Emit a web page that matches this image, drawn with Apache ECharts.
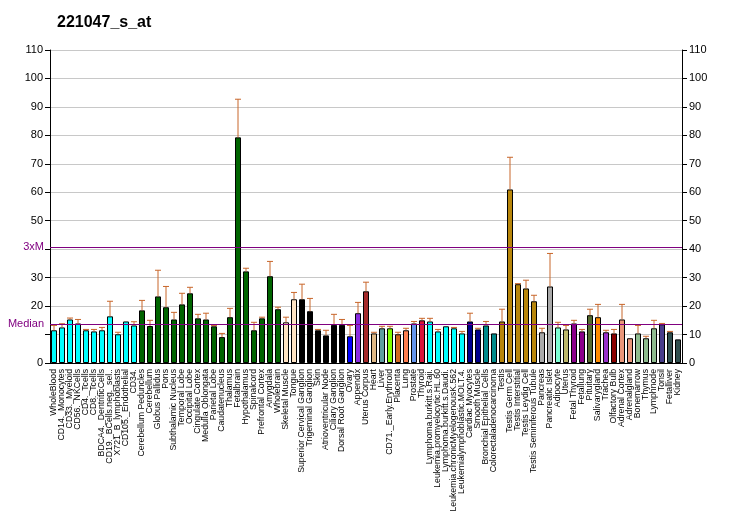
<!DOCTYPE html>
<html>
<head>
<meta charset="utf-8">
<script src="https://cdn.jsdelivr.net/npm/echarts@6/dist/echarts.min.js"></script>
<style>
  html, body { margin: 0; padding: 0; background: #fff; }
  #chart { width: 732px; height: 530px; }
</style>
</head>
<body>
<div id="chart"></div>
<script>
// tissue names as printed under the bars
var categories = [
  "WholeBlood", "CD14._Monocytes", "CD33._Myeloid", "CD56._NKCells", "CD4._Tcells", "CD8._Tcells",
  "BDCA4._DentriticCells", "CD19._BCells.neg._sel..", "X721_B_lymphoblasts", "CD105._Endothelial", "CD34.",
  "Cerebellum Peduncles", "Cerebellum", "Globus Pallidus", "Pons", "Subthalamic Nucleus", "Temporal Lobe",
  "Occipital Lobe", "Cingulate Cortex", "Medulla Oblongata", "Parietal Lobe", "Caudatenucleus", "Thalamus",
  "Fetalbrain", "Hypothalamus", "Spinalcord", "Prefrontal Cortex", "Amygdala", "Wholebrain",
  "Skeletal Muscle", "Tongue", "Superior Cervical Ganglion", "Trigeminal Ganglion", "Skin",
  "Atrioventricular Node", "Ciliary Ganglion", "Dorsal Root Ganglion", "Ovary", "Appendix", "Uterus Corpus",
  "Heart", "Liver", "CD71._Early.Erythroid", "Placenta", "Lung", "Prostate", "Thyroid",
  "Lymphoma.burkitt.s.Raji.", "Leukemia.promyelocytic.HL.60", "Lymphoma.burkitt.s.Daudi.",
  "Leukemia.chronicMyelogenousK.562", "Leukemialymphoblastic.MOLT.4.", "Cardiac Myocytes", "Smooth Muscle",
  "Bronchial Epithelial Cells", "Colorectaladenocarcinoma", "Testis", "Testis Germ Cell", "Testis Interstitial",
  "Testis Leydig Cell", "Testis Seminiferous Tubule", "Pancreas", "Pancreatic Islet", "Adipocyte", "Uterus",
  "Fetal Thyroid", "Fetallung", "Pituitary", "Salivarygland", "Trachea", "Olfactory Bulb", "Adrenal Cortex",
  "Adrenalgland", "Bonemarrow", "Thymus", "Lymphnode", "Tonsil", "Fetalliver", "Kidney"
];

// bar heights
var values = [
  11.5, 12.5, 15.3, 13.9, 11.5, 11.1, 11.5, 16.4, 10.1, 14.6, 13.2,
  18.5, 13.0, 23.4, 19.6, 15.3, 20.6, 24.5, 15.7, 15.3, 12.9, 9.1, 16.1,
  79.3, 32.2, 11.5, 15.7, 30.5, 18.9,
  14.3, 22.4, 22.4, 18.2, 11.5, 9.7, 13.4, 13.4, 9.4, 17.5, 25.2,
  10.4, 12.2, 12.2, 10.1, 11.5, 13.9, 15.0,
  14.6, 11.1, 12.9, 12.2, 10.4, 14.6, 11.8, 13.2, 10.4,
  14.6, 61.0, 27.7, 26.2, 21.7, 10.8, 26.9, 12.5, 11.8,
  13.9, 11.1, 16.8, 16.1, 10.8, 10.4, 15.3, 8.7, 10.4, 8.7, 12.2, 13.6, 10.8, 8.3
];

// top of the error whiskers
var errTop = [
  13.2, 13.8, 15.8, 15.3, 11.8, 11.8, 12.5, 21.7, 10.8, 14.6, 14.5,
  22.0, 15.0, 32.6, 26.9, 17.8, 24.5, 26.6, 17.1, 17.5, 13.2, 10.4, 19.2,
  92.7, 33.3, 14.3, 16.1, 35.7, 19.6,
  16.1, 24.8, 27.7, 22.7, 11.8, 11.5, 17.1, 15.3, 13.2, 21.3, 28.4,
  10.8, 12.9, 12.9, 10.8, 12.2, 14.6, 15.7,
  15.7, 11.8, 12.9, 12.5, 11.1, 17.5, 12.2, 14.6, 10.4,
  18.9, 72.3, 27.9, 29.1, 23.8, 12.2, 38.5, 14.3, 13.2,
  15.0, 11.8, 18.9, 20.6, 11.5, 11.8, 20.6, 8.7, 13.2, 9.4, 15.0, 13.9, 11.1, 8.3
];

var barColors = [].concat(
  Array(11).fill("#00FFFF"),
  Array(18).fill("#006400"),
  ["#FFE4C4", "#FFE4C4"],
  Array(6).fill("#000000"),
  ["#0000FF", "#8A2BE2", "#A52A2A", "#DEB887", "#5F9EA0", "#7FFF00", "#D2691E", "#FF7F50", "#6495ED", "#DC143C"],
  Array(5).fill("#00FFFF"),
  ["#00008B", "#00008B", "#008B8B", "#008B8B"],
  Array(5).fill("#B8860B"),
  ["#A9A9A9", "#A9A9A9", "#7FFFD4", "#BDB76B", "#8B008B", "#8B008B", "#556B2F", "#FF8C00", "#9932CC", "#8B0000",
   "#E9967A", "#E9967A", "#8FBC8F", "#8FBC8F", "#8FBC8F", "#483D8B", "#2F4F4F", "#2F4F4F"]
);

var median = 13.6;
var threeXM = 40.8;

var chart = echarts.init(document.getElementById("chart"));

var barData = values.map(function (v, i) {
  return { value: v, itemStyle: { color: barColors[i] } };
});
var errData = values.map(function (v, i) { return [i, v, errTop[i]]; });

var font = "Liberation Sans, Arial, sans-serif";

var yTick = { show: true, inside: false, interval: 0, length: 5, lineStyle: { color: "#000", width: 1 } };

var option = {
  animation: false,
  title: {
    text: "221047_s_at",
    left: 52, top: 10,
    textStyle: { fontSize: 16, fontWeight: "bold", color: "#000", fontFamily: font }
  },
  grid: { left: 50, right: 50, top: 50, bottom: 167 },
  xAxis: {
    type: "category",
    data: categories,
    axisLine: { lineStyle: { color: "#000" } },
    axisTick: { alignWithLabel: true, length: 5, lineStyle: { color: "#000" } },
    axisLabel: { interval: 0, rotate: 90, fontSize: 8.7, margin: 6, color: "#000", fontFamily: font }
  },
  yAxis: [
    {
      type: "value", min: 0, max: 110, interval: 10,
      axisLine: { show: true, lineStyle: { color: "#000" } },
      axisTick: yTick,
      splitLine: { lineStyle: { color: "#C8C8C8" } },
      axisLabel: {
        color: "#000", fontSize: 11, margin: 7, fontFamily: font,
        formatter: function (v) { return (v === 10 || v === 40) ? "" : v; }
      }
    },
    {
      type: "value", min: 0, max: 110, interval: 10, position: "right",
      axisLine: { show: true, lineStyle: { color: "#000" } },
      axisTick: yTick,
      splitLine: { show: false },
      axisLabel: { color: "#000", fontSize: 11, margin: 7, fontFamily: font }
    }
  ],
  series: [
    {
      type: "bar",
      data: barData,
      barWidth: 6,
      itemStyle: { borderColor: "#000", borderWidth: 1 },
      markLine: {
        silent: true,
        symbol: "none",
        z: 5,
        lineStyle: { color: "#800080", width: 1, type: "solid" },
        label: { position: "start", color: "#800080", fontSize: 11, distance: 6, fontFamily: font },
        data: [
          { yAxis: threeXM, label: { formatter: "3xM" } },
          { yAxis: median, label: { formatter: "Median" } }
        ]
      }
    },
    {
      type: "custom",
      data: errData,
      z: 3,
      renderItem: function (params, api) {
        var lo = api.value(1), hi = api.value(2);
        if (hi <= lo) return null;
        var b = api.coord([api.value(0), lo]);
        var t = api.coord([api.value(0), hi]);
        var st = { stroke: "#C8662A", lineWidth: 1 };
        return {
          type: "group",
          children: [
            { type: "line", shape: { x1: b[0], y1: b[1], x2: t[0], y2: t[1] }, style: st },
            { type: "line", shape: { x1: t[0] - 3, y1: t[1], x2: t[0] + 3, y2: t[1] }, style: st }
          ]
        };
      }
    }
  ]
};

chart.setOption(option);
</script>
</body>
</html>
